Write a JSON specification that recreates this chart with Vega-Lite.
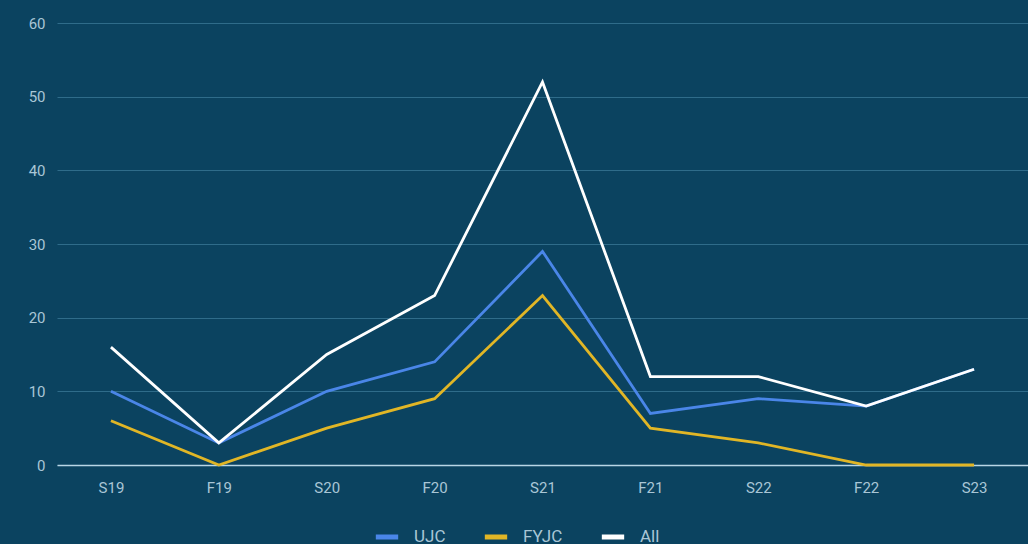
{
  "$schema": "https://vega.github.io/schema/vega-lite/v6.json",
  "width": 971,
  "height": 442,
  "padding": {"left": 28, "top": 16, "right": 0, "bottom": 0},
  "background": "#0b4360",
  "config": {
    "view": {"stroke": null},
    "font": "Roboto",
    "axis": {"labelColor": "#a9c6d6", "labelFontSize": 15, "titleColor": "#a9c6d6"}
  },
  "data": {
    "values": [
      {"term": "S19", "series": "UJC", "count": 10},
      {"term": "F19", "series": "UJC", "count": 3},
      {"term": "S20", "series": "UJC", "count": 10},
      {"term": "F20", "series": "UJC", "count": 14},
      {"term": "S21", "series": "UJC", "count": 29},
      {"term": "F21", "series": "UJC", "count": 7},
      {"term": "S22", "series": "UJC", "count": 9},
      {"term": "F22", "series": "UJC", "count": 8},
      {"term": "S23", "series": "UJC", "count": 13},
      {"term": "S19", "series": "FYJC", "count": 6},
      {"term": "F19", "series": "FYJC", "count": 0},
      {"term": "S20", "series": "FYJC", "count": 5},
      {"term": "F20", "series": "FYJC", "count": 9},
      {"term": "S21", "series": "FYJC", "count": 23},
      {"term": "F21", "series": "FYJC", "count": 5},
      {"term": "S22", "series": "FYJC", "count": 3},
      {"term": "F22", "series": "FYJC", "count": 0},
      {"term": "S23", "series": "FYJC", "count": 0},
      {"term": "S19", "series": "All", "count": 16},
      {"term": "F19", "series": "All", "count": 3},
      {"term": "S20", "series": "All", "count": 15},
      {"term": "F20", "series": "All", "count": 23},
      {"term": "S21", "series": "All", "count": 52},
      {"term": "F21", "series": "All", "count": 12},
      {"term": "S22", "series": "All", "count": 12},
      {"term": "F22", "series": "All", "count": 8},
      {"term": "S23", "series": "All", "count": 13}
    ]
  },
  "mark": {"type": "line", "strokeWidth": 2.8, "strokeJoin": "miter"},
  "encoding": {
    "x": {
      "field": "term",
      "type": "ordinal",
      "sort": ["S19", "F19", "S20", "F20", "S21", "F21", "S22", "F22", "S23"],
      "scale": {"type": "point", "padding": 0.5},
      "axis": {
        "title": null,
        "labelAngle": 0,
        "ticks": false,
        "labelPadding": 15,
        "domainColor": "#b9d6e6",
        "domainWidth": 1.5,
        "grid": false
      }
    },
    "y": {
      "field": "count",
      "type": "quantitative",
      "scale": {"domain": [0, 60]},
      "axis": {
        "title": null,
        "values": [0, 10, 20, 30, 40, 50, 60],
        "ticks": false,
        "domain": false,
        "labelPadding": 12,
        "gridColor": "#2f6c8a",
        "gridWidth": 1.2
      }
    },
    "color": {
      "field": "series",
      "type": "nominal",
      "sort": ["UJC", "FYJC", "All"],
      "scale": {"domain": ["UJC", "FYJC", "All"], "range": ["#4a86e8", "#e1b626", "#ffffff"]},
      "legend": {
        "title": null,
        "orient": "none",
        "legendX": 316,
        "legendY": 500,
        "direction": "horizontal",
        "symbolType": "stroke",
        "symbolStrokeWidth": 5,
        "symbolSize": 500,
        "labelColor": "#a9c6d6",
        "labelFontSize": 17,
        "labelOffset": 13,
        "columnPadding": 28
      }
    }
  }
}
